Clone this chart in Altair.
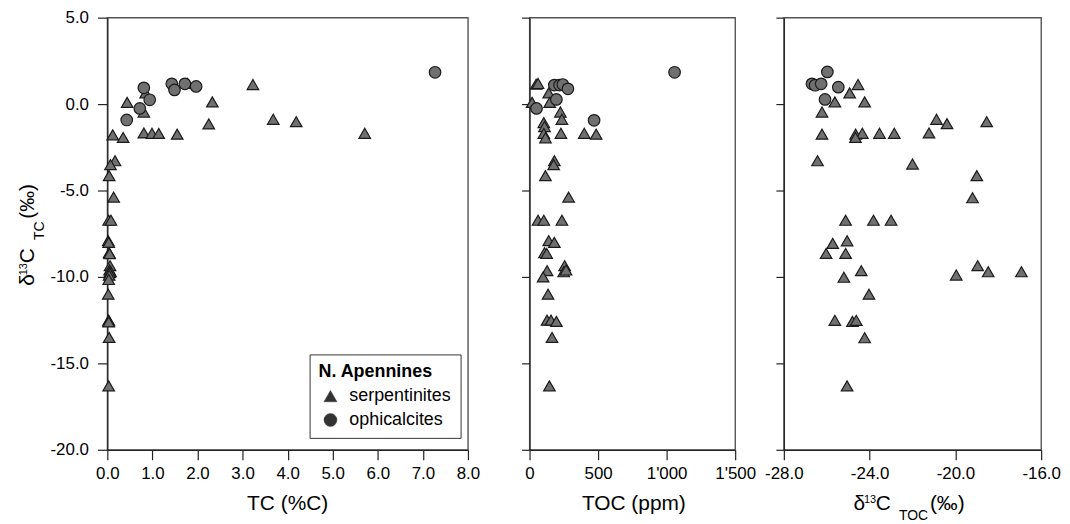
import altair as alt
import pandas as pd

# ---------------- data ----------------
# Panel 1: TC (%C) vs d13C_TC
tc_serp_x = [0.44, 0.85, 0.81, 1.78, 2.33, 2.25, 3.23, 3.68, 4.19, 5.71,
             0.12, 0.35, 0.81, 0.99, 1.14, 1.55,
             0.17, 0.07, 0.04, 0.14, 0.03, 0.08, 0.02, 0.03, 0.04, 0.05,
             0.06, 0.05, 0.07, 0.05, 0.04, 0.03, 0.02, 0.03, 0.03, 0.03, 0.04, 0.03]
tc_serp_y = [0.10, 0.65, -0.46, 1.19, 0.13, -1.15, 1.13, -0.88, -1.02, -1.69,
             -1.78, -1.93, -1.67, -1.69, -1.70, -1.74,
             -3.28, -3.50, -4.14, -5.38, -6.72, -6.72, -7.90, -8.00, -8.60, -8.65,
             -9.35, -9.60, -9.70, -9.75, -9.90, -10.15, -11.00, -12.50, -12.55, -12.60, -13.50, -16.30]
tc_oph_x = [0.81, 0.94, 0.72, 0.43, 1.43, 1.49, 1.72, 1.97, 7.27]
tc_oph_y = [0.94, 0.25, -0.25, -0.92, 1.17, 0.82, 1.17, 1.02, 1.84]

# Panel 2: TOC (ppm) vs d13C_TC
toc_serp_x = [48, 62, 140, 19, 147, 225, 236, 104, 109, 104, 116, 229, 399, 486,
              181, 176, 116, 285, 62, 104, 236, 140, 181, 109, 125,
              256, 249, 266, 128, 99, 135, 128, 157, 196, 164, 145]
toc_serp_y = [1.15, 1.19, 0.65, 0.10, 0.10, -0.46, -0.88, -1.07, -1.30, -1.70, -1.95, -1.69, -1.69, -1.74,
              -3.28, -3.50, -4.14, -5.38, -6.72, -6.72, -6.72, -7.90, -8.00, -8.60, -8.64,
              -9.35, -9.70, -9.60, -9.64, -10.00, -11.00, -12.50, -12.50, -12.57, -13.50, -16.30]
toc_oph_x = [1058, 181, 219, 243, 280, 196, 51, 471]
toc_oph_y = [1.84, 1.10, 1.10, 1.13, 0.88, 0.27, -0.25, -0.94]

# Panel 3: d13C_TOC vs d13C_TC
dtoc_serp_x = [-24.54, -24.93, -25.62, -24.23, -26.22, -20.88, -20.39, -18.54,
               -26.22, -24.65, -24.34, -24.66, -23.54, -22.85, -21.23,
               -26.43, -22.00, -19.00, -19.20, -25.12, -23.82, -23.00,
               -25.72, -25.05, -26.03, -25.12, -18.96, -18.47, -16.92, -19.96,
               -24.39, -25.20, -24.03, -25.62, -24.80, -24.62, -24.23, -25.05]
dtoc_serp_y = [1.13, 0.65, 0.13, 0.13, -0.46, -0.88, -1.13, -1.02,
               -1.74, -1.74, -1.69, -1.93, -1.69, -1.69, -1.67,
               -3.28, -3.47, -4.14, -5.42, -6.72, -6.72, -6.72,
               -8.06, -7.91, -8.64, -8.64, -9.35, -9.70, -9.70, -9.89,
               -9.64, -10.02, -11.00, -12.51, -12.57, -12.51, -13.52, -16.30]
dtoc_oph_x = [-25.97, -26.69, -26.54, -26.26, -25.46, -26.08]
dtoc_oph_y = [1.86, 1.17, 1.09, 1.17, 0.98, 0.27]

types = ["serpentinites", "ophicalcites"]
y_ticks = [-20, -15, -10, -5, 0, 5]

# title pieces: text, x, y, font size
title1 = [("TC (%C)", 181.5, 496, 21)]
title1_y = [("\u03b4", -73.7, 269.9, 21), ("13", -80.4, 259.3, 11), ("C", -73.7, 247.3, 21),
            ("TC", -63.7, 223.9, 14), ("(\u2030)", -73.7, 202.5, 21)]
title2 = [("TOC (ppm)", 105, 496, 21)]
title3 = [("\u03b4", 70, 495.7, 21), ("13", 80.6, 489, 11), ("C", 92.6, 495.7, 21),
          ("TOC", 116, 505.7, 14), ("(\u2030)", 147, 495.7, 21)]

FONT = "Liberation Sans"
MINUS = "\u2212"


def make_df(sx, sy, ox, oy):
    return pd.DataFrame({
        "x": list(sx) + list(ox),
        "y": list(sy) + list(oy),
        "type": [types[0]] * len(sx) + [types[1]] * len(ox),
    })


def text_layers(pieces, angle=0, align="left"):
    layers = []
    for t, x, y, fs in pieces:
        layers.append(
            alt.Chart(pd.DataFrame({"t": [t]})).mark_text(
                font=FONT, fontSize=fs, color="black", align=align,
                baseline="alphabetic", angle=angle
            ).encode(text="t:N", x=alt.value(x), y=alt.value(y))
        )
    return layers


def panel(df, xdom, xvals, xexpr, width, first, legend, titles):
    yaxis = alt.Axis(values=y_ticks, title=None, grid=False,
                     tickSize=10 if first else 8, labels=first, labelPadding=9,
                     labelExpr=f"replace(format(datum.value, '.1f'), '{MINUS}', '-')")
    xaxis = alt.Axis(values=xvals, title=None, grid=False, tickSize=10,
                     labelPadding=6, labelExpr=xexpr, labelFlush=False)
    pts = alt.Chart(df).mark_point(
        filled=True, strokeWidth=1.2, opacity=1, size=135
    ).encode(
        x=alt.X("x:Q", scale=alt.Scale(domain=xdom, nice=False, zero=False), axis=xaxis),
        y=alt.Y("y:Q", scale=alt.Scale(domain=[-20, 5], nice=False, zero=False), axis=yaxis),
        shape=alt.Shape("type:N", scale=alt.Scale(domain=types, range=["triangle-up", "circle"]),
                        legend=legend),
        fill=alt.Fill("type:N", scale=alt.Scale(domain=types, range=["#707070", "#707070"]),
                      legend=None),
        stroke=alt.Stroke("type:N", scale=alt.Scale(domain=types, range=["#1a1a1a", "#1a1a1a"]),
                          legend=None),
        order=alt.Order("type:N", sort="descending"),
    )
    return alt.layer(pts, *titles).properties(width=width, height=435)


legend = alt.Legend(
    title="N. Apennines", orient="none", legendX=203.6, legendY=339,
    strokeColor="#333", fillColor="white", padding=9,
    titleFont=FONT, titleFontSize=18, titleFontWeight="bold", titleColor="black",
    titlePadding=6,
    labelFont=FONT, labelFontSize=18, labelColor="black",
    symbolSize=170, symbolFillColor="#333333", symbolStrokeColor="#333333",
    symbolStrokeWidth=0.5, symbolOffset=3, labelOffset=10, rowPadding=6,
)

fmt1 = f"replace(format(datum.value, '.1f'), '{MINUS}', '-')"
fmt2 = "replace(format(datum.value, ','), ',', \"'\")"

p1 = panel(make_df(tc_serp_x, tc_serp_y, tc_oph_x, tc_oph_y), [0, 8], list(range(9)), fmt1,
           363, True, legend,
           text_layers(title1, align="center") + text_layers(title1_y, angle=270))
p2 = panel(make_df(toc_serp_x, toc_serp_y, toc_oph_x, toc_oph_y), [0, 1500], [0, 500, 1000, 1500],
           fmt2, 207, False, None, text_layers(title2, align="center"))
p3 = panel(make_df(dtoc_serp_x, dtoc_serp_y, dtoc_oph_x, dtoc_oph_y), [-28, -16], [-28, -24, -20, -16],
           fmt1, 259, False, None, text_layers(title3))

inner = alt.hconcat(p2, p3, spacing=49, bounds="flush")
chart = alt.hconcat(p1, inner, spacing=62, bounds="flush").resolve_scale(
    shape="independent"
).configure(font=FONT).configure_view(
    stroke="#555", strokeWidth=1.4
).configure_axis(
    labelFont=FONT, labelFontSize=17, labelColor="black",
    domainColor="#222", tickColor="#222", domainWidth=1.2, tickWidth=1.2,
).properties(padding={"left": 8, "top": -2, "right": 0, "bottom": 0})

chart.save("out.html", embed_options={"renderer": "svg", "actions": False})
